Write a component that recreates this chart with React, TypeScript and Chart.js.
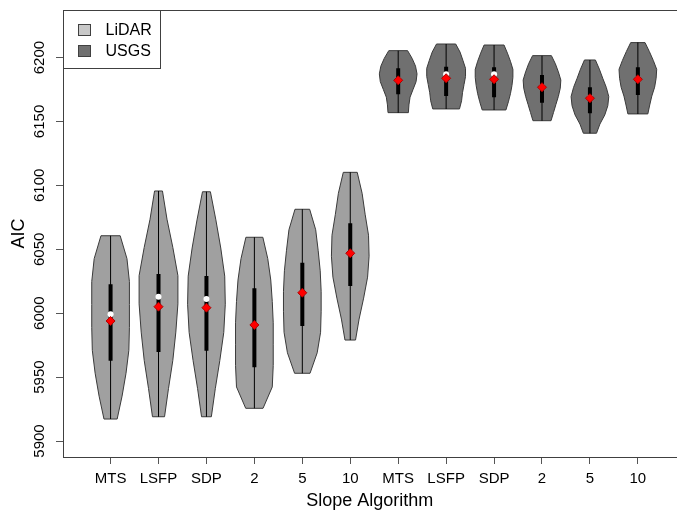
import React, { useEffect, useRef } from "react";
import { Chart, registerables } from "chart.js";

Chart.register(...registerables);

// ---------- data ----------
const categories = ["MTS", "LSFP", "SDP", "2", "5", "10", "MTS", "LSFP", "SDP", "2", "5", "10"];
const groupOf = ["LiDAR", "LiDAR", "LiDAR", "LiDAR", "LiDAR", "LiDAR", "USGS", "USGS", "USGS", "USGS", "USGS", "USGS"];
const groupNames = ["LiDAR", "USGS"];

const mins = [5917.2, 5919.0, 5919.0, 5925.6, 5953.0, 5979.0, 6156.9, 6159.8, 6159.0, 6150.6, 6140.8, 6155.9];
const maxs = [6060.6, 6095.6, 6095.0, 6059.4, 6081.3, 6110.2, 6205.4, 6210.6, 6209.8, 6201.5, 6198.1, 6211.7];
const q1s = [5962.8, 5969.6, 5970.7, 5957.7, 5990.0, 6021.3, 6171.3, 6170.0, 6168.9, 6164.7, 6156.4, 6170.7];
const q3s = [6022.6, 6030.7, 6029.1, 6019.5, 6039.5, 6070.3, 6191.6, 6192.9, 6192.4, 6186.4, 6176.8, 6192.4];
const medians = [5999.1, 6012.9, 6011.1, 5991.0, 6016.0, 6047.0, 6182.5, 6186.9, 6186.9, 6177.0, 6168.5, 6183.2];
const means = [5993.9, 6005.1, 6004.3, 5990.8, 6016.0, 6046.9, 6182.2, 6183.8, 6183.0, 6176.8, 6168.2, 6183.0];

// relative density (violin half-width) at 9 evenly spaced levels from min (first) to max (last)
const densities = [
  [0.35, 0.61, 0.82, 0.97, 1.0, 1.0, 1.0, 0.87, 0.51],
  [0.32, 0.53, 0.76, 0.92, 1.03, 1.03, 0.76, 0.45, 0.21],
  [0.26, 0.47, 0.71, 0.92, 1.0, 0.97, 0.76, 0.5, 0.21],
  [0.46, 0.95, 1.0, 1.0, 1.0, 0.95, 0.87, 0.71, 0.45],
  [0.41, 0.79, 0.97, 1.0, 1.0, 0.95, 0.84, 0.71, 0.39],
  [0.28, 0.47, 0.71, 0.92, 1.0, 0.97, 0.79, 0.63, 0.37],
  [0.54, 0.57, 0.63, 0.79, 0.95, 1.0, 0.92, 0.74, 0.5],
  [0.71, 0.82, 0.87, 0.95, 1.03, 1.03, 0.89, 0.74, 0.51],
  [0.63, 0.76, 0.87, 0.95, 1.0, 1.0, 0.87, 0.71, 0.53],
  [0.48, 0.61, 0.74, 0.87, 0.97, 1.0, 0.87, 0.71, 0.5],
  [0.35, 0.53, 0.79, 0.95, 1.0, 0.87, 0.68, 0.5, 0.29],
  [0.53, 0.63, 0.74, 0.89, 0.97, 1.0, 0.82, 0.61, 0.38],
];

const yTicks = [5900, 5950, 6000, 6050, 6100, 6150, 6200];

// ---------- styles ----------
const FONT = "'Liberation Sans', Arial, sans-serif";
const VIOLIN_FILL: Record<string, string> = { LiDAR: "#a0a0a0", USGS: "#707070" };
const LEGEND_FILL: Record<string, string> = { LiDAR: "#c8c8c8", USGS: "#707070" };
const MAX_HALF_WIDTH = 0.393; // in category units
const AXIS_COLOR = "#404040";

const violinPlugin = {
  id: "violins",
  beforeDatasetsDraw(chart: any) {
    const { ctx, scales, chartArea } = chart;
    const x = scales.x;
    const y = scales.y;
    ctx.save();
    ctx.beginPath();
    ctx.rect(chartArea.left, chartArea.top, chartArea.right - chartArea.left, chartArea.bottom - chartArea.top);
    ctx.clip();
    categories.forEach((_, i) => {
      const d = densities[i];
      const n = d.length;
      const center = i + 1;
      const lev = d.map((w, k) => ({
        v: mins[i] + ((maxs[i] - mins[i]) * k) / (n - 1),
        w: w * MAX_HALF_WIDTH,
      }));
      ctx.beginPath();
      lev.forEach((p, k) => {
        const px = x.getPixelForValue(center + p.w);
        const py = y.getPixelForValue(p.v);
        if (k === 0) ctx.moveTo(px, py);
        else ctx.lineTo(px, py);
      });
      for (let k = n - 1; k >= 0; k--) {
        const p = lev[k];
        ctx.lineTo(x.getPixelForValue(center - p.w), y.getPixelForValue(p.v));
      }
      ctx.closePath();
      ctx.fillStyle = VIOLIN_FILL[groupOf[i]];
      ctx.fill();
      ctx.lineWidth = 1;
      ctx.strokeStyle = "#3a3a3a";
      ctx.stroke();
    });
    ctx.restore();
  },
};

const legendPlugin = {
  id: "boxLegend",
  afterDraw(chart: any) {
    const { ctx, chartArea } = chart;
    const left = Math.round(chartArea.left) + 0.5;
    const top = Math.round(chartArea.top) + 0.5;
    ctx.save();
    ctx.strokeStyle = AXIS_COLOR;
    ctx.lineWidth = 1;
    ctx.strokeRect(left, top, 97, 58);
    ctx.font = `16px ${FONT}`;
    ctx.textBaseline = "middle";
    ctx.textAlign = "left";
    groupNames.forEach((g, k) => {
      const sy = top + 14 + k * 21;
      ctx.fillStyle = LEGEND_FILL[g];
      ctx.fillRect(left + 15, sy, 12, 11);
      ctx.strokeStyle = "#404040";
      ctx.strokeRect(left + 15, sy, 12, 11);
      ctx.fillStyle = "#000";
      ctx.fillText(g, left + 42, sy + 6);
    });
    ctx.restore();
  },
};

export default function App() {
  const ref = useRef<HTMLCanvasElement | null>(null);

  useEffect(() => {
    if (!ref.current) return;
    Chart.defaults.font.family = FONT;
    const idx = categories.map((_, i) => i + 1);
    const chart = new Chart(ref.current, {
      type: "bar",
      data: {
        datasets: [
          {
            type: "scatter",
            label: "Mean",
            data: idx.map((xv, i) => ({ x: xv, y: means[i] })),
            pointStyle: "rectRot",
            pointRadius: 4.5,
            backgroundColor: "#ff0000",
            borderColor: "#b00000",
            borderWidth: 1,
            order: 0,
          } as any,
          {
            type: "scatter",
            label: "Median",
            data: idx.map((xv, i) => ({ x: xv, y: medians[i] })),
            pointStyle: "circle",
            pointRadius: 3,
            backgroundColor: "#ffffff",
            borderWidth: 0,
            order: 1,
          } as any,
          {
            type: "bar",
            label: "IQR",
            data: idx.map((xv, i) => ({ x: xv, y: [q1s[i], q3s[i]] })),
            backgroundColor: "#000000",
            grouped: false,
            maxBarThickness: 4,
            order: 2,
          } as any,
          {
            type: "bar",
            label: "Range",
            data: idx.map((xv, i) => ({ x: xv, y: [mins[i], maxs[i]] })),
            backgroundColor: "#000000",
            grouped: false,
            maxBarThickness: 1,
            order: 3,
          } as any,
        ],
      },
      options: {
        responsive: false,
        animation: false,
        events: [],
        layout: { padding: 0 },
        plugins: {
          legend: { display: false },
          tooltip: { enabled: false },
        },
        scales: {
          x: {
            type: "linear",
            position: "bottom",
            min: 0.0075,
            max: 12.806,
            offset: false,
            afterBuildTicks: (s: any) => {
              s.ticks = idx.map((v) => ({ value: v }));
            },
            afterFit: (s: any) => {
              s.height = 55;
            },
            ticks: {
              autoSkip: false,
              maxRotation: 0,
              minRotation: 0,
              padding: 6,
              color: "#000",
              font: { size: 15 },
              callback: (v: any) => categories[Math.round(Number(v)) - 1] ?? "",
            },
            grid: { drawOnChartArea: false, drawTicks: true, tickLength: 7, color: "#555", offset: false },
            border: { display: true, color: AXIS_COLOR },
            title: {
              display: true,
              text: "Slope Algorithm",
              color: "#000",
              font: { size: 18 },
              padding: { top: 0, bottom: 0 },
            },
          },
          x2: {
            type: "linear",
            position: "top",
            min: 0,
            max: 1,
            afterFit: (s: any) => {
              s.height = 10;
            },
            ticks: { display: false },
            grid: { display: false, drawTicks: false },
            border: { display: true, color: AXIS_COLOR },
          },
          y: {
            type: "linear",
            position: "left",
            min: 5887.5,
            max: 6237.2,
            afterBuildTicks: (s: any) => {
              s.ticks = yTicks.map((v) => ({ value: v }));
            },
            afterFit: (s: any) => {
              s.width = 63;
            },
            ticks: {
              autoSkip: false,
              minRotation: 90,
              maxRotation: 90,
              crossAlign: "center",
              padding: -1,
              color: "#000",
              font: { size: 15 },
              callback: (v: any) => String(v),
            },
            grid: { drawOnChartArea: false, drawTicks: true, tickLength: 7, color: "#555" },
            border: { display: true, color: AXIS_COLOR },
            title: {
              display: true,
              text: "AIC",
              color: "#000",
              font: { size: 18 },
              padding: { top: 8, bottom: 0 },
            },
          },
        },
      } as any,
      plugins: [violinPlugin, legendPlugin],
    });
    return () => chart.destroy();
  }, []);

  return (
    <div style={{ position: "absolute", left: 0, top: 0, width: 682, height: 512, background: "#fff" }}>
      <canvas ref={ref} width={682} height={512} style={{ display: "block" }} />
    </div>
  );
}
